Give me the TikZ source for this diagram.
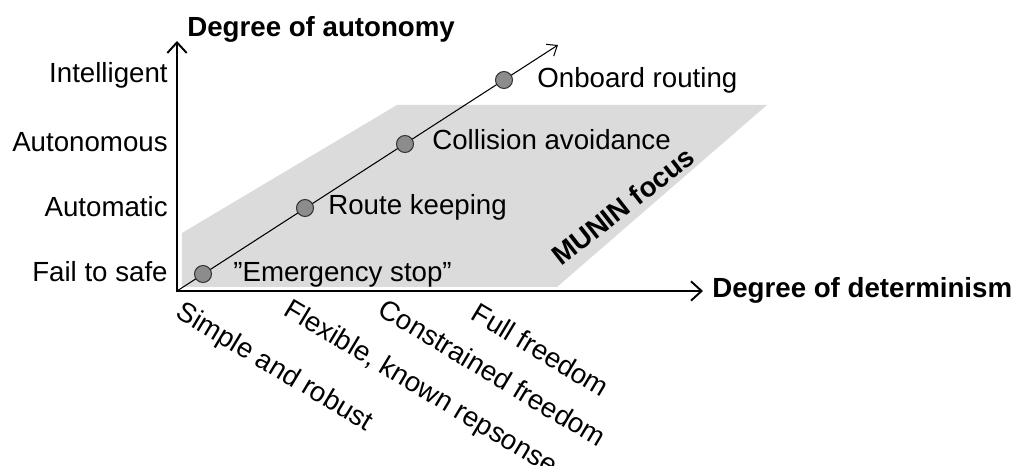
\documentclass[tikz,border=0pt]{standalone}
\usepackage{fontspec}
\setmainfont{Liberation Sans}
\usetikzlibrary{arrows.meta}
\colorlet{focusgray}{black!14}
\colorlet{dotgray}{black!45}
\newcommand{\labelsize}{\fontsize{15.75}{18}\selectfont}
\tikzset{>={Straight Barb[length=6pt,width=11pt]}}
\tikzset{
  level/.style = {anchor=base east, inner sep=0pt},
  task/.style = {anchor=base west, inner sep=0pt},
  freedom/.style = {anchor=north west, inner sep=0pt, rotate=-31},
  axislabel/.style = {inner sep=0pt, font=\labelsize\bfseries},
  dot/.style = {circle, draw=black!80, fill=dotgray, line width=0.6pt,
    minimum size=0.34cm, inner sep=0pt}
}

\begin{document}
\begin{tikzpicture}[x=0.02cm,y=0.02cm,font=\labelsize]
  \useasboundingbox (-177,-175) rectangle (838,291);
  % shaded focus area
  \fill[focusgray] (5,4) -- (5,58) -- (220,186) -- (590,186) -- (380,4) -- cycle;
  \node[axislabel,rotate=38] (focus) at (446,85) {MUNIN focus};
  % axes
  \coordinate (o) at (0,0);
  \coordinate (ytop) at (0,250);
  \coordinate (xend) at (526,0);
  \coordinate (dend) at (381,246);
  \draw[<->,line width=1.1pt] (ytop) -- (o) -- (xend);
  \node[axislabel,anchor=base west] (ytitle) at (10,254) {Degree of autonomy};
  \node[axislabel,anchor=base west] (xtitle) at (535,-7) {Degree of determinism};
  % diagonal with the functions
  \draw[-{Straight Barb[length=5pt,width=8pt]},line width=0.6pt] (o) -- (dend);
  \node[dot] (stop) at (26,17) {};
  \node[dot] (route) at (128,83) {};
  \node[dot] (coll) at (228,147) {};
  \node[dot] (onboard) at (327,211) {};
  \node[task] (stoplbl) at (56,9) {”Emergency stop”};
  \node[task] (routelbl) at (151,76) {Route keeping};
  \node[task] (colllbl) at (255,141) {Collision avoidance};
  \node[task] (onboardlbl) at (360,203) {Onboard routing};
  % levels of autonomy
  \node[level] (fail) at (-9,9) {Fail to safe};
  \node[level] (auto) at (-9,74) {Automatic};
  \node[level] (autonom) at (-9,139) {Autonomous};
  \node[level] (intel) at (-9,208) {Intelligent};
  % kinds of determinism
  \node[freedom] (simple) at (8,-8) {Simple and robust};
  \node[freedom] (flex) at (116,-6) {Flexible, known repsonse};
  \node[freedom] (constr) at (210,-6) {Constrained freedom};
  \node[freedom] (full) at (303,-10) {Full freedom};
\end{tikzpicture}
\end{document}
